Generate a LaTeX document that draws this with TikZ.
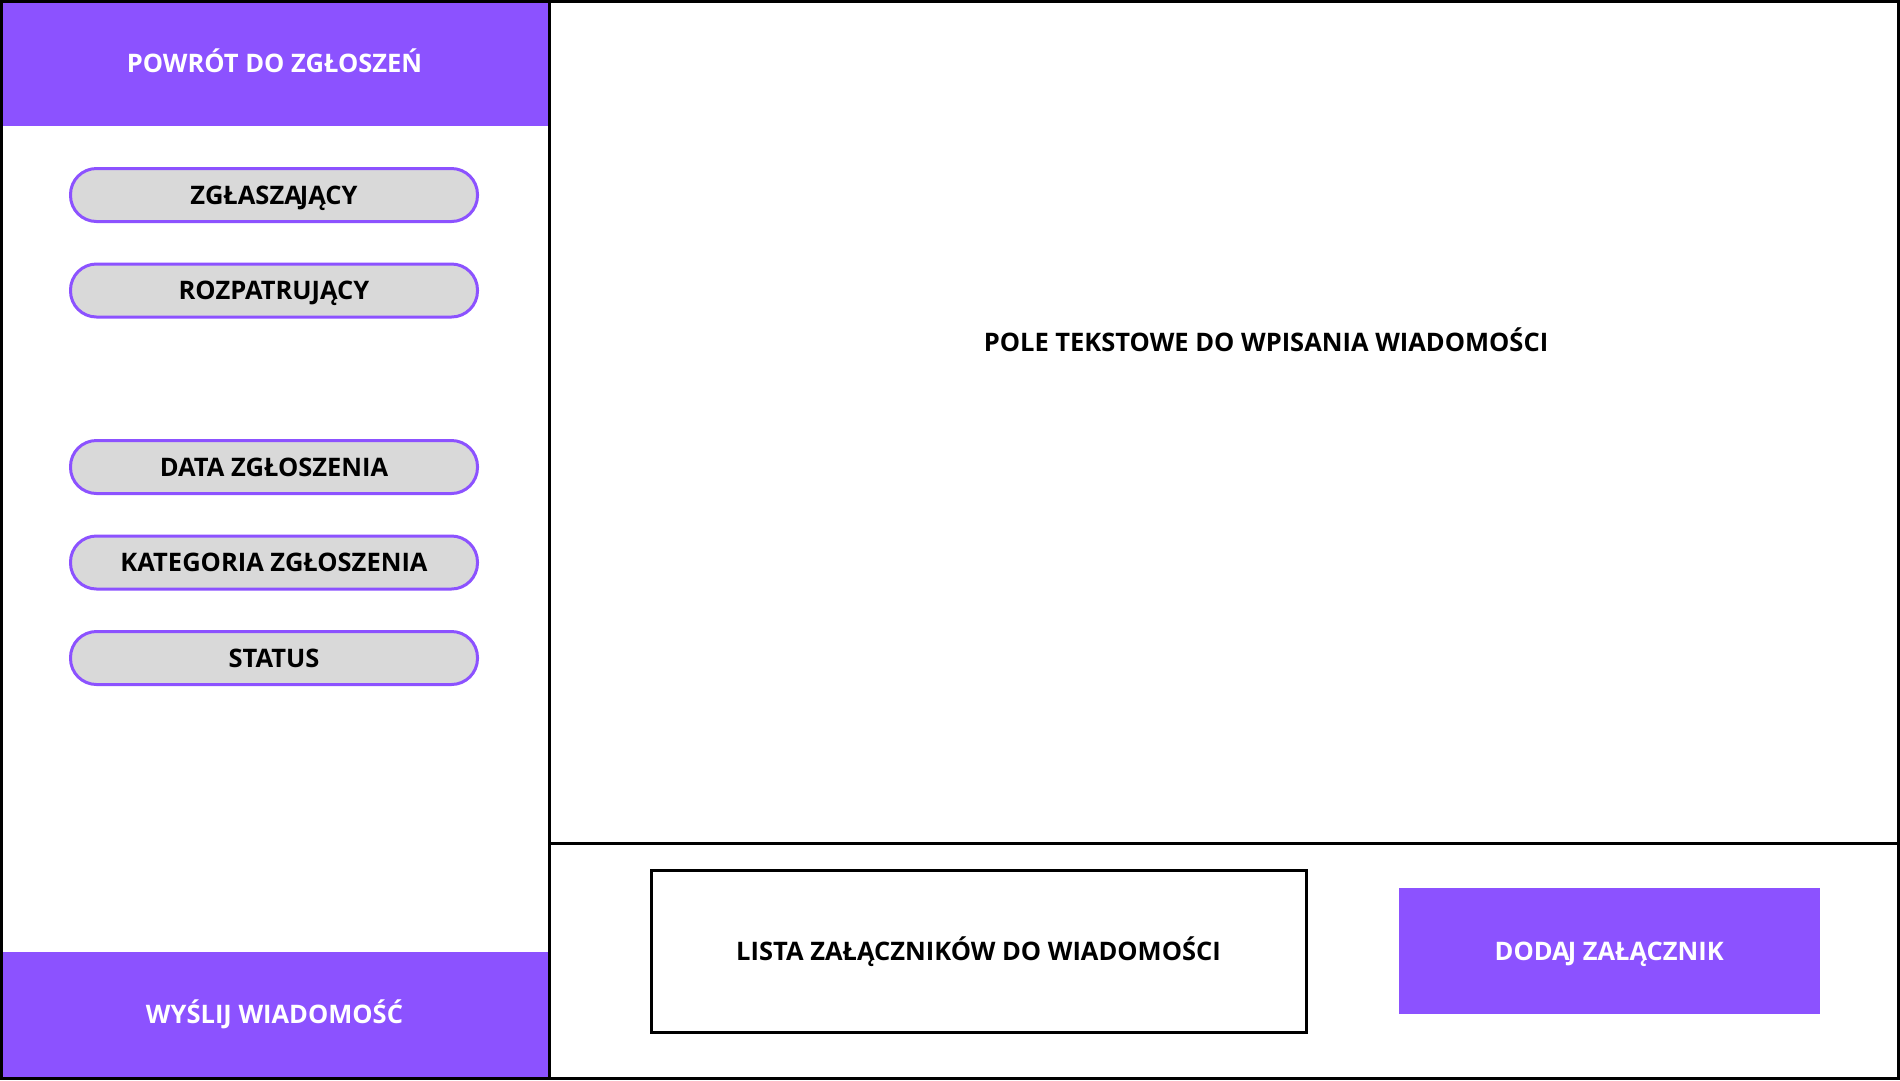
\documentclass[tikz,border=0pt]{standalone}
\usepackage{fontspec}
\setmainfont{Open Sans}
\usetikzlibrary{positioning, calc}
\definecolor{fiolet}{HTML}{8C52FF}
\definecolor{szary}{HTML}{D9D9D9}
\newcommand{\aj}{A\kern-2pt J}
\tikzset{
	napis/.style={font=\bfseries\fontsize{25.5}{30}\selectfont, inner sep=0pt, text height=18pt, text depth=0pt},
	pole/.style={napis, draw=fiolet, line width=3pt, fill=szary, rounded corners=26pt, minimum width=407pt, minimum height=53pt},
	przycisk/.style={napis, fill=fiolet, text=white},
	ramka/.style={draw=black, line width=3pt}
}

\begin{document}
\begin{tikzpicture}[x=1pt, y=-1pt]
		\useasboundingbox (0,0) rectangle (1900,1080);
		\fill[white] (0,0) rectangle (1900,1080);
		
		\node[przycisk, minimum width=546pt, minimum height=126pt] (powrot) at (274.5,63) {POWRÓT DO ZGŁOSZEŃ};
		\node[przycisk, minimum width=546pt, minimum height=125pt] (wyslij) at (274.5,1014.5) {WYŚLIJ WIADOMOŚĆ};
		
		\node[pole] (zglaszajacy) at (274,195) {ZGŁASZ\aj ĄCY};
		\node[pole, below=39.5pt of zglaszajacy] (rozpatrujacy) {ROZPATRUJĄCY};
		\node[pole, below=120.5pt of rozpatrujacy] (data) {DATA ZGŁOSZENIA};
		\node[pole, below=39.5pt of data] (kategoria) {KATEGORIA ZGŁOSZENIA};
		\node[pole, below=39.5pt of kategoria] (status) {STATUS};
		
		\draw[ramka] (1.5,1.5) rectangle (549,1078.5);
		\draw[ramka] (549,1.5) rectangle (1898.5,843);
		\draw[ramka] (549,843) rectangle (1898.5,1078.5);
		
		\node[napis] (tresc) at (1266,342) {POLE TEKSTOWE DO WPISANIA WIADOMOŚCI};
		\node[napis, ramka, minimum width=655pt, minimum height=162pt] (lista) at (978.5,951) {LISTA ZAŁĄCZNIKÓW DO WIADOMOŚCI};
		\node[przycisk, minimum width=421pt, minimum height=126pt, right=91pt of lista] (dodaj) {DOD\aj\ ZAŁĄCZNIK};
\end{tikzpicture}
\end{document}
